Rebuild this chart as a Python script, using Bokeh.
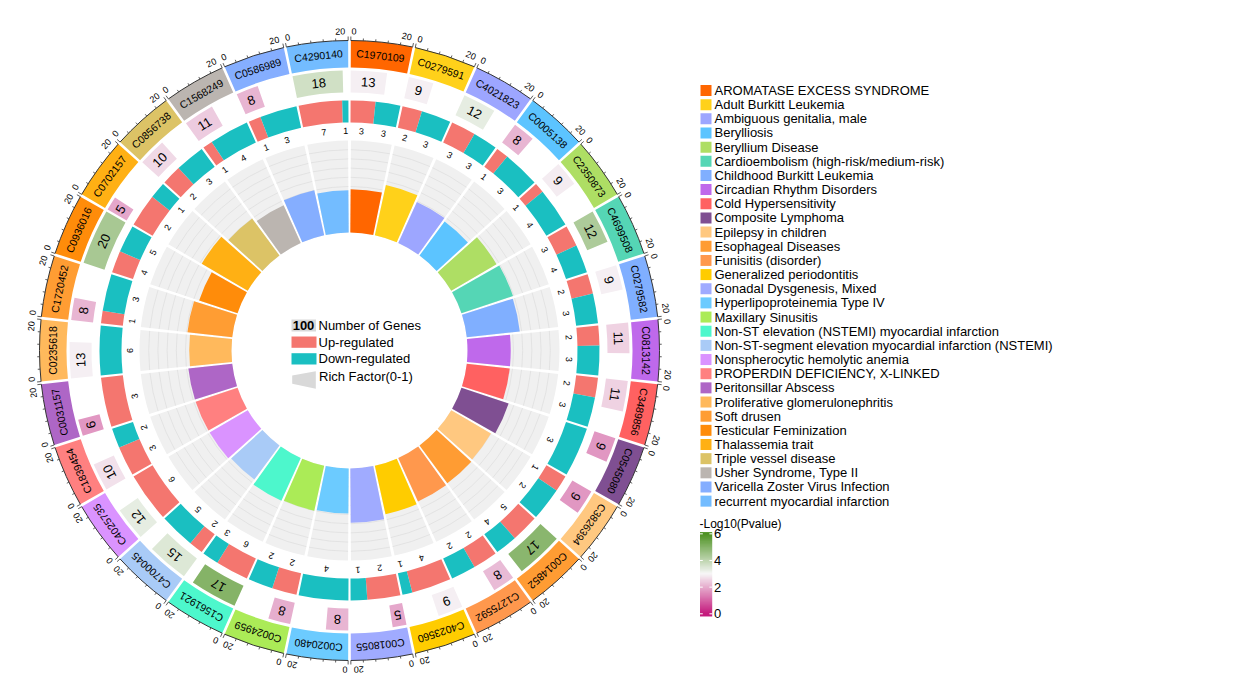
import numpy as np
from bokeh.plotting import figure
from bokeh.models import Range1d, ColumnDataSource, LinearColorMapper
from bokeh.core.properties import value
from bokeh.embed import file_html
from bokeh.resources import INLINE

# ---------------- data ----------------
ids = ["C1970109", "C0279591", "C4021823", "C0005138", "C2350873", "C4699508",
       "C0279582", "C0813142", "C3489856", "C0545080", "C3826394", "C0014852",
       "C1275592", "C4023560", "C0018055", "C0020480", "C0024959", "C1561921",
       "C4700045", "C4025735", "C1839454", "C0031157", "C0235618", "C1720452",
       "C0936016", "C0702157", "C0856738", "C1568249", "C0586989", "C4290140"]
names = ["AROMATASE EXCESS SYNDROME", "Adult Burkitt Leukemia", "Ambiguous genitalia, male",
         "Berylliosis", "Beryllium Disease", "Cardioembolism (high-risk/medium-risk)",
         "Childhood Burkitt Leukemia", "Circadian Rhythm Disorders", "Cold Hypersensitivity",
         "Composite Lymphoma", "Epilepsy in children", "Esophageal Diseases",
         "Funisitis (disorder)", "Generalized periodontitis", "Gonadal Dysgenesis, Mixed",
         "Hyperlipoproteinemia Type IV", "Maxillary Sinusitis",
         "Non-ST elevation (NSTEMI) myocardial infarction",
         "Non-ST-segment elevation myocardial infarction (NSTEMI)",
         "Nonspherocytic hemolytic anemia", "PROPERDIN DEFICIENCY, X-LINKED",
         "Peritonsillar Abscess", "Proliferative glomerulonephritis", "Soft drusen",
         "Testicular Feminization", "Thalassemia trait", "Triple vessel disease",
         "Usher Syndrome, Type II", "Varicella Zoster Virus Infection",
         "recurrent myocardial infarction"]
colors = ["#FF6600", "#FFD11A", "#9DA6FF", "#5CC4FF", "#AEDE64", "#55D6B5",
          "#80AFFF", "#BF69EB", "#FF6161", "#7F4F92", "#FFC880", "#FF9C33",
          "#FF984D", "#FFCC00", "#A0ABFF", "#6CCBFF", "#ABEB57", "#4DF7CC",
          "#A9CBF7", "#DA93FF", "#FF8080", "#AE66C6", "#FFB95C", "#FF9D33",
          "#FF8C0A", "#FFB014", "#DCC366", "#BBB5B0", "#85AEFF", "#73BCFF"]
gene_count = [13, 9, 12, 8, 9, 12, 9, 11, 11, 9, 9, 17, 8, 9, 5,
              8, 8, 17, 15, 12, 10, 6, 13, 8, 20, 5, 10, 11, 8, 18]
neg_log10_p = [2.9, 2.9, 3.3, 2.1, 2.85, 4.3, 2.9, 2.5, 2.5, 1.7, 1.7, 4.9, 2.2, 2.9, 1.9,
               2.1, 2.0, 5.0, 3.45, 3.3, 2.7, 1.7, 2.9, 2.1, 4.4, 1.9, 2.6, 2.4, 2.1, 3.7]
up_reg = [3, 2, 3, 1, 1, 3, 2, 2, 2, 0, 1, 5, 2, 4, 2, 0, 2, 6, 2, 6, 3, 3, 0, 1, 4, 2, 2, 1, 1, 7]
down_reg = [3, 3, 3, 3, 4, 4, 3, 3, 3, 3, 2, 4, 2, 1, 1, 4, 2, 3, 5, 0, 2, 0, 6, 3, 5, 1, 3, 4, 3, 1]
rich_factor = [0.47, 0.56, 0.49, 0.46, 0.57, 0.59, 0.58, 0.47, 0.47, 0.54, 0.50, 0.51, 0.52, 0.54, 0.59,
               0.49, 0.50, 0.51, 0.46, 0.48, 0.48, 0.48, 0.46, 0.49, 0.44, 0.58, 0.50, 0.45, 0.50, 0.46]
axis_max = 20
axis_ticks = [0, 4, 8, 12, 16, 20]
cbar_ticks = [0, 2, 4, 6]

UP_COLOR = "#F4766F"
DOWN_COLOR = "#1ABFC1"
FONT = value("Liberation Sans")

# ---------------- layout ----------------
W, H = 1234, 684
CX, CY = 349.0, 350.0
N = len(ids)
SPAN = 360.0 / N
GAP = 0.5


def sy(y):
    return 700.0 - np.asarray(y, dtype=float)


def rad(tcw):
    return np.radians(90.0 - np.asarray(tcw, dtype=float))


def px(r, t):
    return CX + r * np.sin(np.radians(t))


def py(r, t):
    return CY + r * np.cos(np.radians(t))


def h2r(h):
    return np.array([int(h[i:i + 2], 16) for i in (1, 3, 5)], dtype=float)


anchors = [(0.0, h2r("#C51B7D")), (3.0, h2r("#F7F7F7")), (6.0, h2r("#4D9221"))]
pal = []
for v in np.linspace(0, 6, 256):
    if v <= 3:
        f = v / 3.0
        c = anchors[0][1] * (1 - f) + anchors[1][1] * f
    else:
        f = (v - 3) / 3.0
        c = anchors[1][1] * (1 - f) + anchors[2][1] * f
    pal.append("#%02x%02x%02x" % tuple(int(round(x)) for x in c))
mapper = LinearColorMapper(palette=pal, low=0, high=6)

# data coords == screen pixel coords (y flipped)
p = figure(width=W, height=H, x_range=Range1d(0, W), y_range=Range1d(700 - H, 700),
           output_backend="svg", toolbar_location=None, min_border=0,
           x_axis_location=None, y_axis_location=None)
p.grid.visible = False
p.outline_line_color = None
p.background_fill_color = "white"

k = np.arange(N)
t0 = k * SPAN + GAP / 2
t1 = (k + 1) * SPAN - GAP / 2
ww = t1 - t0
tm = (t0 + t1) / 2

# ---- outer ring with IDs ----
p.annular_wedge(x=CX, y=CY, inner_radius=283, outer_radius=310,
                start_angle=rad(t1), end_angle=rad(t0),
                fill_color=colors, line_color=None)
p.text(x=px(296.5, tm), y=py(296.5, tm), text=ids, angle=-np.radians(tm),
       text_align="center", text_baseline="middle", text_font=FONT,
       text_font_size="10.5px", text_color="black")

# ---- axis ----
p.arc(x=CX, y=CY, radius=310, start_angle=rad(t1), end_angle=rad(t0),
      line_color="#333333", line_width=1)
tk_t, tk_r = [], []
for i in range(N):
    for v in axis_ticks:
        tk_t.append(t0[i] + v / axis_max * ww[i])
        tk_r.append(314.0 if v in (0, axis_max) else 312.3)
tk_t = np.array(tk_t)
tk_r = np.array(tk_r)
p.segment(x0=px(310, tk_t), y0=py(310, tk_t), x1=px(tk_r, tk_t), y1=py(tk_r, tk_t),
          line_color="#333333", line_width=0.8)
ts = t0 + 0.1
p.text(x=px(319, ts), y=py(319, ts), text=[str(axis_ticks[0])] * N, angle=-np.radians(ts),
       text_align="left", text_baseline="middle", text_font=FONT, text_font_size="9px",
       text_color="black")
te = t1 - 0.5
p.text(x=px(319, te), y=py(319, te), text=[str(axis_ticks[-1])] * N, angle=-np.radians(te),
       text_align="right", text_baseline="middle", text_font=FONT, text_font_size="9px",
       text_color="black")

# ---- gene count boxes ----
gc = np.array(gene_count, dtype=float)
tb = t0 + gc / axis_max * ww
tbm = (t0 + tb) / 2
box_src = ColumnDataSource(dict(s=rad(tb), e=rad(t0), lp=neg_log10_p,
                                tx=px(269, tbm), ty=py(269, tbm),
                                ang=-np.radians(tbm), txt=[str(g) for g in gene_count]))
p.annular_wedge(x=CX, y=CY, inner_radius=258, outer_radius=280,
                start_angle="s", end_angle="e", source=box_src,
                fill_color={"field": "lp", "transform": mapper}, line_color=None)
p.text(x="tx", y="ty", text="txt", angle="ang", source=box_src,
       text_align="center", text_baseline="middle", text_font=FONT,
       text_font_size="13px", text_color="black")

# ---- up / down ring (only non-empty segments) ----
up = np.array(up_reg, dtype=float)
dn = np.array(down_reg, dtype=float)
tu = t0 + up / (up + dn) * ww
seg_s, seg_e, seg_c, lab_t, lab_s = [], [], [], [], []
for i in range(N):
    if up_reg[i] > 0:
        seg_s.append(float(rad(tu[i])))
        seg_e.append(float(rad(t0[i])))
        seg_c.append(UP_COLOR)
        lab_t.append((t0[i] + tu[i]) / 2)
        lab_s.append(str(up_reg[i]))
    if down_reg[i] > 0:
        seg_s.append(float(rad(t1[i])))
        seg_e.append(float(rad(tu[i])))
        seg_c.append(DOWN_COLOR)
        lab_t.append((tu[i] + t1[i]) / 2)
        lab_s.append(str(down_reg[i]))
p.annular_wedge(x=CX, y=CY, inner_radius=228, outer_radius=250,
                start_angle=seg_s, end_angle=seg_e, fill_color=seg_c, line_color=None)
lab_t = np.array(lab_t)
p.text(x=px(219.5, lab_t), y=py(219.5, lab_t), text=lab_s, angle=-np.radians(lab_t),
       text_align="center", text_baseline="middle", text_font=FONT,
       text_font_size="9px", text_color="black")

# ---- rich factor track ----
R0, RH = 118.0, 92.0
p.annular_wedge(x=CX, y=CY, inner_radius=R0, outer_radius=R0 + RH,
                start_angle=rad(t1 - 0.15), end_angle=rad(t0 + 0.15),
                fill_color="#F0F0F0", line_color=None)
g_r, g_s, g_e = [], [], []
for f in np.arange(1, 10) / 10.0:
    for i in range(N):
        g_r.append(R0 + RH * f)
        g_s.append(float(rad(t1[i] - 0.15)))
        g_e.append(float(rad(t0[i] + 0.15)))
p.arc(x=CX, y=CY, radius=g_r, start_angle=g_s, end_angle=g_e,
      line_color="#DCDCDC", line_width=0.7)
rf = np.array(rich_factor)
p.annular_wedge(x=CX, y=CY, inner_radius=R0, outer_radius=R0 + RH * rf,
                start_angle=rad(t1 - 0.15), end_angle=rad(t0 + 0.15),
                fill_color=colors, line_color=None)

# ---- center legend ----
p.quad(left=[291], right=[315.5], top=sy([319]), bottom=sy([331]),
       fill_color="#D9D9D9", line_color=None)
p.text(x=[303], y=sy([325.3]), text=["100"], text_align="center", text_baseline="middle",
       text_font=FONT, text_font_size="13px", text_font_style="bold", text_color="black")
p.quad(left=[291, 291], right=[316, 316], top=sy([336, 352.7]), bottom=sy([347.3, 364]),
       fill_color=[UP_COLOR, DOWN_COLOR], line_color=None)
p.patch(x=[291.7, 315.3, 315.3, 291.7], y=sy([375, 370.7, 388.3, 383.3]),
        fill_color="#D9D9D9", line_color=None)
p.text(x=[318, 318, 318, 318.5], y=sy([325.3, 341.7, 358.3, 376]),
       text=["Number of Genes", "Up-regulated", "Down-regulated", "Rich Factor(0-1)"],
       text_align="left", text_baseline="middle", text_font=FONT, text_font_size="13px",
       text_color="black")

# ---- right legend ----
rows = 90.0 + np.arange(N) * 14.16
p.rect(x=705.5, y=sy(rows), width=11, height=11, fill_color=colors, line_color=None)
p.text(x=714, y=sy(rows), text=names, text_align="left", text_baseline="middle",
       text_font=FONT, text_font_size="13px", text_color="black")

# ---- colorbar ----
p.text(x=[699], y=sy([523]), text=["-Log10(Pvalue)"], text_align="left",
       text_baseline="middle", text_font=FONT, text_font_size="12px", text_color="black")
Y0, UNIT = 613.3, 13.33
lo, hi = -0.2, 6.13
vals = np.linspace(lo, hi, 240).reshape(-1, 1)
p.image(image=[vals], x=699.5, y=float(sy(Y0 - lo * UNIT)), dw=12.2, dh=(hi - lo) * UNIT,
        color_mapper=mapper)
ct = np.array(cbar_ticks, dtype=float)
cy_ = sy(Y0 - ct * UNIT)
p.segment(x0=[699.5] * 4, y0=cy_, x1=[702.3] * 4, y1=cy_, line_color="white", line_width=1)
p.segment(x0=[708.9] * 4, y0=cy_, x1=[711.7] * 4, y1=cy_, line_color="white", line_width=1)
p.text(x=[713.5] * 4, y=cy_, text=[str(int(t)) for t in cbar_ticks], text_align="left",
       text_baseline="middle", text_font=FONT, text_font_size="13px", text_color="black")

open("out.html", "w").write(file_html(p, INLINE))
